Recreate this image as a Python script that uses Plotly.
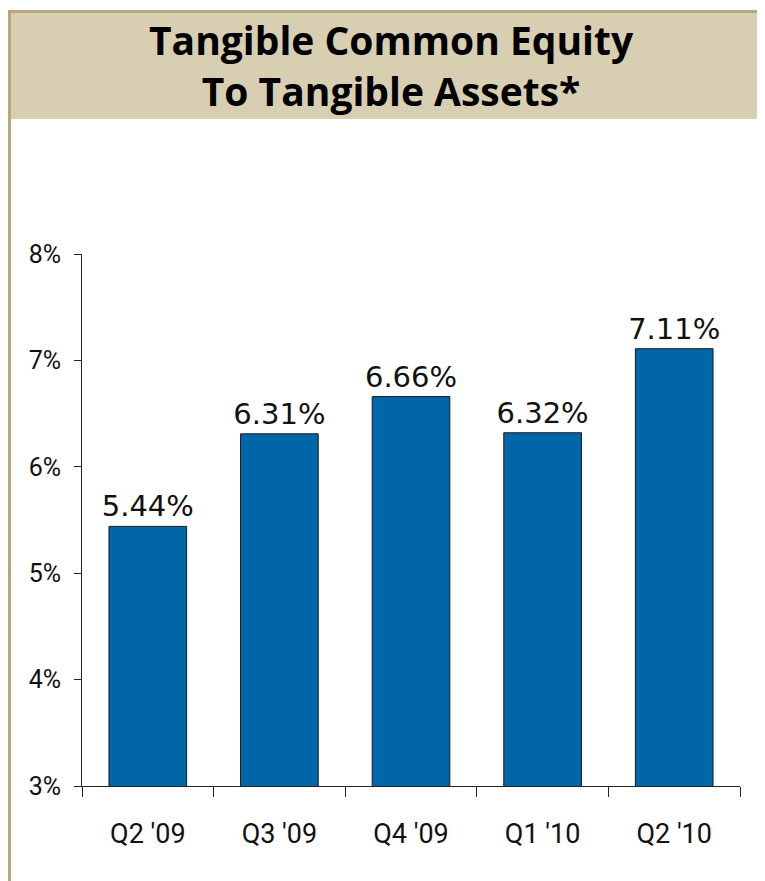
import plotly.graph_objects as go

quarters = ["Q2 '09", "Q3 '09", "Q4 '09", "Q1 '10", "Q2 '10"]
tce_ratio = [5.44, 6.31, 6.66, 6.32, 7.11]
y_ticks = [3, 4, 5, 6, 7, 8]
y_tick_text = ["3%", "4%", "5%", "6%", "7%", "8%"]

# page body has an 8px margin, so the figure is a bit smaller than the window
W, H = 757, 873
# plot area in figure pixels
L, R, T, B = 74, 732, 246, 778


def px(x):
    return (x - L) / (R - L)


def py(y):
    return (B - y) / (B - T)


fig = go.Figure(go.Bar(
    x=quarters,
    y=tce_ratio,
    base=0,
    text=[f"{v:.2f}%" for v in tce_ratio],
    textposition="outside",
    constraintext="none",
    textfont=dict(family="DejaVu Sans", size=29, color="#111111"),
    cliponaxis=False,
    marker=dict(color="#0066AA", line=dict(color="#1a1a1a", width=1)),
))

# header band + border
fig.add_shape(type="rect", xref="paper", yref="paper",
              x0=px(0), x1=px(W + 5), y0=py(111), y1=py(2),
              fillcolor="#D8CFB3", line_width=0, layer="below")
fig.add_shape(type="line", xref="paper", yref="paper",
              x0=px(0), x1=px(W + 5), y0=py(3.5), y1=py(3.5),
              line=dict(color="#B8A777", width=3))
fig.add_shape(type="line", xref="paper", yref="paper",
              x0=px(1.5), x1=px(1.5), y0=py(2), y1=py(H + 5),
              line=dict(color="#B8A777", width=3))

fig.add_annotation(
    text="<b>Tangible Common Equity<br>To Tangible Assets*</b>",
    xref="paper", yref="paper", x=px(383), y=py(57),
    xanchor="center", yanchor="middle", showarrow=False,
    font=dict(family="Open Sans", size=39, color="#000000"),
)

fig.update_layout(
    width=W, height=H,
    margin=dict(l=L, r=W - R, t=T, b=H - B),
    paper_bgcolor="white", plot_bgcolor="white",
    bargap=0.41,
    showlegend=False,
)
fig.update_xaxes(
    showline=True, linecolor="#222222", linewidth=1,
    ticks="outside", tickson="boundaries", ticklen=10, tickcolor="#222222",
    tickfont=dict(family="Roboto", size=27, color="#111111"),
    ticklabelstandoff=24,
    showgrid=False,
)
fig.update_yaxes(
    range=[3, 8], tickvals=y_ticks, ticktext=y_tick_text,
    showline=True, linecolor="#222222", linewidth=1,
    ticks="outside", ticklen=7, tickcolor="#222222",
    tickfont=dict(family="Roboto", size=25, color="#111111"),
    ticklabelstandoff=8,
    showgrid=False, zeroline=False,
)

fig.write_html("out.html")
